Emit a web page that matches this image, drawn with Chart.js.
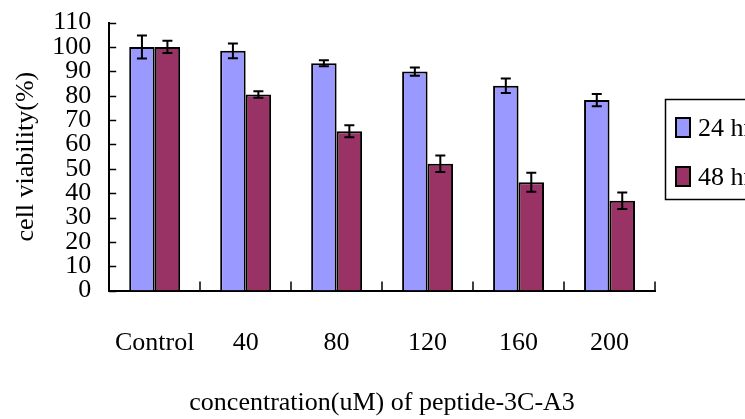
<!DOCTYPE html>
<html>
<head>
<meta charset="utf-8">
<script src="https://cdn.jsdelivr.net/npm/chart.js@4"></script>
<style>
	html, body { margin: 0; padding: 0; background: #fff; overflow: hidden; }
	/* canvas pulled up a little so the plot top sits where the original's does */
	#wrap { width: 745px; height: 430px; position: relative; top: -11px; }
</style>
</head>
<body>
<div id="wrap"><canvas id="viabilityChart"></canvas></div>
<script>
// chart data
const categories = ['Control', '40', '80', '120', '160', '200'];
const seriesNames = ['24 hr', '48 hr'];
const values24 = [100, 98.4, 93.3, 89.9, 84.1, 78.2];
const values48 = [100, 80.5, 65.4, 52.1, 44.5, 36.9];
const errors24 = [4.7, 3.0, 1.2, 1.7, 3.0, 2.5];
const errors48 = [2.5, 1.3, 2.5, 3.4, 3.9, 3.4];
const yTicks = [0, 10, 20, 30, 40, 50, 60, 70, 80, 90, 100, 110];

const fontFamily = '"Liberation Serif", "Times New Roman", serif';
const fontSize = 26;
const shiftY = 11;
const errorSets = [errors24, errors48];

// draws the error bars on top of each bar
const errorBars = {
	id: 'errorBars',
	afterDatasetsDraw(chart) {
		const ctx = chart.ctx;
		const y = chart.scales.y;
		ctx.save();
		ctx.strokeStyle = '#000';
		ctx.lineWidth = 2;
		chart.data.datasets.forEach((ds, di) => {
			const meta = chart.getDatasetMeta(di);
			meta.data.forEach((bar, i) => {
				const v = ds.data[i];
				const e = errorSets[di][i];
				const top = y.getPixelForValue(v + e);
				const bot = y.getPixelForValue(v - e);
				ctx.beginPath();
				ctx.moveTo(bar.x, top);
				ctx.lineTo(bar.x, bot);
				ctx.moveTo(bar.x - 5, top);
				ctx.lineTo(bar.x + 5, top);
				ctx.moveTo(bar.x - 5, bot);
				ctx.lineTo(bar.x + 5, bot);
				ctx.stroke();
			});
		});
		ctx.restore();
	}
};

// tick marks pointing into the plot, like the original
const innerTicks = {
	id: 'innerTicks',
	afterDraw(chart) {
		const ctx = chart.ctx;
		const area = chart.chartArea;
		const x = chart.scales.x;
		const y = chart.scales.y;
		ctx.save();
		ctx.strokeStyle = '#000';
		ctx.lineWidth = 1.5;
		ctx.beginPath();
		yTicks.forEach(t => {
			const py = Math.round(y.getPixelForValue(t)) + 0.5;
			ctx.moveTo(area.left, py);
			ctx.lineTo(area.left + 7, py);
		});
		for (let i = 1; i <= categories.length; i++) {
			let px;
			if (i === categories.length) px = area.right;
			else px = (x.getPixelForValue(i - 1) + x.getPixelForValue(i)) / 2;
			px = Math.round(px);
			ctx.moveTo(px, area.bottom);
			ctx.lineTo(px, area.bottom - 9);
		}
		ctx.stroke();
		ctx.restore();
	}
};

// boxed legend at the right, cut by the page edge
const boxLegend = {
	id: 'boxLegend',
	afterDraw(chart) {
		const ctx = chart.ctx;
		ctx.save();
		ctx.strokeStyle = '#000';
		ctx.lineWidth = 1.5;
		ctx.strokeRect(665.5, 99.5 + shiftY, 120, 100);
		ctx.font = fontSize + 'px ' + fontFamily;
		ctx.textBaseline = 'middle';
		chart.data.datasets.forEach((ds, i) => {
			const top = 118 + shiftY + i * 49;
			ctx.fillStyle = ds.backgroundColor;
			ctx.fillRect(676, top, 14, 19);
			ctx.lineWidth = 2;
			ctx.strokeRect(676, top, 14, 19);
			ctx.fillStyle = '#000';
			ctx.fillText(ds.label, 698, top + 11);
		});
		ctx.restore();
	}
};

new Chart(document.getElementById('viabilityChart').getContext('2d'), {
	type: 'bar',
	data: {
		labels: categories,
		datasets: [
			{
				label: seriesNames[0],
				data: values24,
				backgroundColor: '#9999FF',
				borderColor: '#000',
				borderWidth: 2,
			},
			{
				label: seriesNames[1],
				data: values48,
				backgroundColor: '#993366',
				borderColor: '#000',
				borderWidth: 2,
			},
		],
	},
	options: {
		responsive: true,
		maintainAspectRatio: false,
		animation: false,
		categoryPercentage: 0.56,
		barPercentage: 1,
		layout: { padding: { left: 11, right: 90, top: 0, bottom: 0 } },
		plugins: {
			legend: { display: false },
			tooltip: { enabled: false },
		},
		scales: {
			x: {
				grid: { display: false, drawTicks: false },
				border: { display: true, color: '#000', width: 2 },
				ticks: {
					color: '#000',
					padding: 37,
					maxRotation: 0,
					font: { family: fontFamily, size: fontSize },
				},
				title: {
					display: true,
					text: 'concentration(uM) of peptide-3C-A3',
					color: '#000',
					font: { family: fontFamily, size: fontSize },
					padding: { top: -8, bottom: 0 },
				},
			},
			y: {
				min: 0,
				max: 110,
				afterBuildTicks(scale) {
					scale.ticks = yTicks.map(v => ({ value: v }));
				},
				grid: { display: false, drawTicks: false },
				border: { display: true, color: '#000', width: 2 },
				ticks: {
					color: '#000',
					padding: 18,
					autoSkip: false,
					font: { family: fontFamily, size: fontSize },
				},
				title: {
					display: true,
					text: 'cell viability(%)',
					color: '#000',
					font: { family: fontFamily, size: fontSize },
					padding: { top: 0, bottom: -8 },
				},
			},
		},
	},
	plugins: [errorBars, innerTicks, boxLegend],
});
</script>
</body>
</html>
